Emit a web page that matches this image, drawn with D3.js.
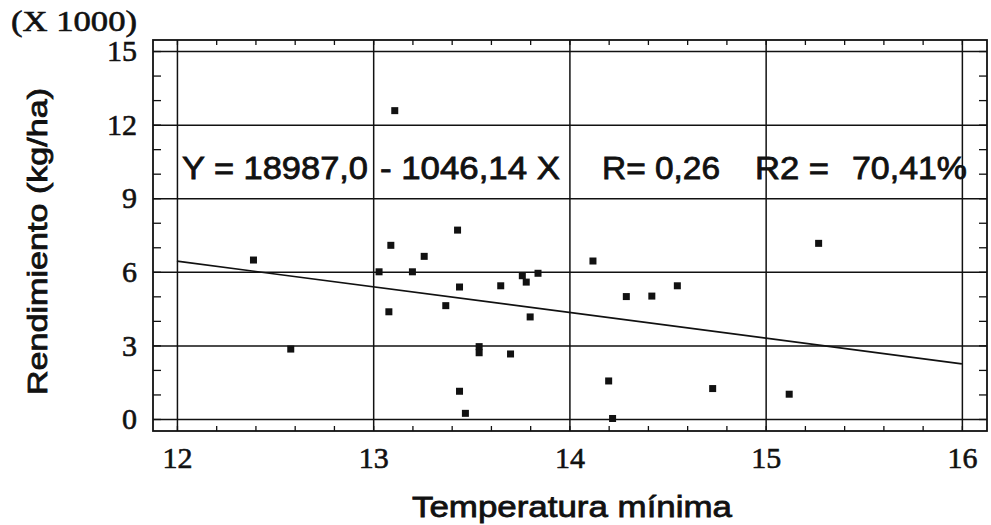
<!DOCTYPE html>
<html>
<head>
<meta charset="utf-8">
<script src="https://cdn.jsdelivr.net/npm/d3@7"></script>
<style>
  body { margin: 0; background: #fff; }
  svg { display: block; }
</style>
</head>
<body>
<div id="chart"></div>
<script>
// data (x = temperatura minima, y = rendimiento x 1000 kg/ha)
var tempMin = [12.39, 12.58, 13.03, 13.09, 13.08, 13.11, 13.20, 13.26, 13.37, 13.43,
               13.44, 13.44, 13.47, 13.54, 13.54, 13.65, 13.70, 13.76, 13.78, 13.84,
               13.80, 14.12, 14.20, 14.22, 14.29, 14.42, 14.55, 14.73, 15.12, 15.27];
var rendimiento = [6.48, 2.85, 6.00, 7.08, 4.37, 12.57, 6.00, 6.63, 4.62, 7.70,
                   5.38, 1.13, 0.23, 2.95, 2.70, 5.43, 2.65, 5.84, 5.58, 5.94,
                   4.16, 6.44, 1.55, 0.02, 4.99, 5.01, 5.43, 1.24, 1.01, 7.16];
var xTicks = [12, 13, 14, 15, 16];
var yTicks = [0, 3, 6, 9, 12, 15];
// fitted line Y = 18987,0 - 1046,14 X  (kg/ha)
var intercept = 18987.0;
var slope = -1046.14;
var fitRange = [12, 16];

var svgWidth = 991;
var svgHeight = 525;
var margin = { top: 40, left: 153 };
var width = 834;
var height = 391;

var svg = d3.select("#chart")
  .append("svg")
  .attr("width", svgWidth)
  .attr("height", svgHeight);

var chartGroup = svg.append("g")
  .attr("transform", `translate(${margin.left}, ${margin.top})`);

var x = d3.scaleLinear().domain([11.878, 16.128]).range([0, width]);
var y = d3.scaleLinear().domain([-0.49, 15.45]).range([height, 0]);

var ink = "#111";
var serif = "'Liberation Serif', 'Times New Roman', serif";
var sans = "'Liberation Sans', Arial, sans-serif";

// grid lines
chartGroup.append("g")
  .attr("class", "grid")
  .call(d3.axisBottom(x).tickValues(xTicks).tickSize(height).tickFormat(""));
chartGroup.append("g")
  .attr("class", "grid")
  .call(d3.axisLeft(y).tickValues(yTicks).tickSize(-width).tickFormat(""));
chartGroup.selectAll(".grid .domain").remove();
chartGroup.selectAll(".grid line").attr("stroke", ink).attr("stroke-width", 1.5);

// minor ticks pointing inward on every side
var xMinor = d3.range(12, 16.01, 0.2);
var yMinor = d3.range(0, 15.01, 1);
chartGroup.append("g").attr("class", "minor")
  .attr("transform", `translate(0, ${height})`)
  .call(d3.axisBottom(x).tickValues(xMinor).tickSize(-5).tickFormat(""));
chartGroup.append("g").attr("class", "minor")
  .call(d3.axisTop(x).tickValues(xMinor).tickSize(-5).tickFormat(""));
chartGroup.append("g").attr("class", "minor")
  .call(d3.axisLeft(y).tickValues(yMinor).tickSize(-8).tickFormat(""));
chartGroup.append("g").attr("class", "minor")
  .attr("transform", `translate(${width}, 0)`)
  .call(d3.axisRight(y).tickValues(yMinor).tickSize(-8).tickFormat(""));
chartGroup.selectAll(".minor .domain").remove();
chartGroup.selectAll(".minor line").attr("stroke", ink).attr("stroke-width", 1.3);

// frame
chartGroup.append("rect")
  .attr("width", width)
  .attr("height", height)
  .attr("fill", "none")
  .attr("stroke", ink)
  .attr("stroke-width", 1.8);

// tick labels
var xLabels = chartGroup.append("g")
  .attr("transform", `translate(0, ${height})`)
  .call(d3.axisBottom(x).tickValues(xTicks).tickSize(0).tickPadding(16).tickFormat(d3.format("d")));
var yLabels = chartGroup.append("g")
  .call(d3.axisLeft(y).tickValues(yTicks).tickSize(0).tickPadding(16).tickFormat(d3.format("d")));
[xLabels, yLabels].forEach(function(g) {
  g.select(".domain").remove();
  g.selectAll("text")
    .attr("fill", ink)
    .attr("stroke", ink)
    .attr("stroke-width", 0.6)
    .style("font-family", serif)
    .style("font-size", "30px");
});

// regression line
var fitLine = d3.line()
  .x(d => x(d))
  .y(d => y((intercept + slope * d) / 1000));
chartGroup.append("path")
  .datum(fitRange)
  .attr("d", fitLine)
  .attr("fill", "none")
  .attr("stroke", ink)
  .attr("stroke-width", 1.7);

// points
chartGroup.selectAll(".pt")
  .data(tempMin)
  .enter()
  .append("rect")
  .attr("class", "pt")
  .attr("x", (d, i) => x(d) - 3.5)
  .attr("y", (d, i) => y(rendimiento[i]) - 3.5)
  .attr("width", 7)
  .attr("height", 7)
  .attr("fill", ink);

// equation text, in pieces so each lands where the original has it
var eqParts = [
  { t: "Y = 18987,0", x: 182, w: 186 },
  { t: "- 1046,14 X", x: 380, w: 180 },
  { t: "R= 0,26", x: 602, w: 118 },
  { t: "R2 =", x: 755, w: 74 },
  { t: "70,41%", x: 852, w: 115 }
];
svg.selectAll(".eq")
  .data(eqParts)
  .enter()
  .append("text")
  .attr("class", "eq")
  .attr("x", d => d.x)
  .attr("y", 179)
  .attr("textLength", d => d.w)
  .attr("lengthAdjust", "spacingAndGlyphs")
  .attr("fill", ink)
  .attr("stroke", ink)
  .attr("stroke-width", 0.8)
  .style("font-family", sans)
  .style("font-size", "31px")
  .text(d => d.t);

// multiplier note
svg.append("text")
  .attr("x", 11)
  .attr("y", 31)
  .attr("textLength", 126)
  .attr("lengthAdjust", "spacingAndGlyphs")
  .attr("fill", ink)
  .attr("stroke", ink)
  .attr("stroke-width", 0.6)
  .style("font-family", serif)
  .style("font-size", "29px")
  .text("(X 1000)");

// axis titles
svg.append("text")
  .attr("x", 412)
  .attr("y", 517)
  .attr("textLength", 320)
  .attr("lengthAdjust", "spacingAndGlyphs")
  .attr("fill", ink)
  .attr("stroke", ink)
  .attr("stroke-width", 0.8)
  .style("font-family", sans)
  .style("font-size", "30px")
  .text("Temperatura mínima");

svg.append("text")
  .attr("transform", "translate(47, 395) rotate(-90)")
  .attr("textLength", 307)
  .attr("lengthAdjust", "spacingAndGlyphs")
  .attr("fill", ink)
  .attr("stroke", ink)
  .attr("stroke-width", 0.8)
  .style("font-family", sans)
  .style("font-size", "28px")
  .text("Rendimiento (kg/ha)");
</script>
</body>
</html>
